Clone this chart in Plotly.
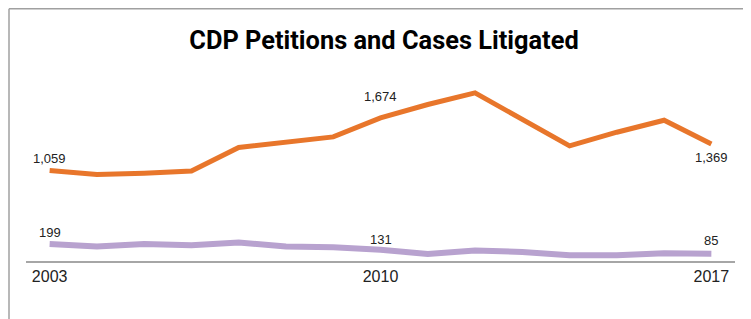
import plotly.graph_objects as go

years = list(range(2003, 2018))
petitions = [1059, 1012, 1027, 1054, 1328, 1393, 1452, 1674, 1831, 1967, 1659, 1347, 1507, 1647, 1369]
litigated = [199, 169, 200, 185, 216, 169, 161, 131, 83, 123, 106, 68, 68, 91, 85]
tick_years = [2003, 2010, 2017]
label_years = [2003, 2010, 2017]

lab_font = dict(size=13, color="#222222", family="Liberation Sans, Arial, sans-serif")

W, H = 743, 311
L, R, T, B = 18, 16, 62, 58
pw, ph = W - L - R, H - T - B

fig = go.Figure()
fig.add_trace(go.Scatter(
    x=years, y=petitions, mode="lines",
    line=dict(color="#E8762B", width=5), hoverinfo="skip",
))
fig.add_trace(go.Scatter(
    x=years, y=litigated, mode="lines",
    line=dict(color="#B8A2CF", width=6), hoverinfo="skip",
))

# data labels: offsets from the line in pixels
pet_shift = {2003: 12, 2010: 21, 2017: -13}
lit_shift = {2003: 11, 2010: 10, 2017: 13}
annotations = []
for y, v in zip(years, petitions):
    if y in label_years:
        annotations.append(dict(x=y, y=v, text=f"{v:,}", showarrow=False, yshift=pet_shift[y],
                                xanchor="center", yanchor="middle", font=lab_font))
for y, v in zip(years, litigated):
    if y in label_years:
        annotations.append(dict(x=y, y=v, text=f"{v:,}", showarrow=False, yshift=lit_shift[y],
                                xanchor="center", yanchor="middle", font=lab_font))

fig.update_layout(
    width=W, height=H,
    margin=dict(l=L, r=R, t=T, b=B),
    paper_bgcolor="white", plot_bgcolor="white",
    showlegend=False,
    annotations=annotations,
    title=dict(text="<b>CDP Petitions and Cases Litigated</b>", x=376 / W, xanchor="center",
               y=1 - 32 / H, yanchor="middle",
               font=dict(size=25.4, color="#000000", family="Roboto, Liberation Sans, sans-serif")),
    xaxis=dict(range=[2002.5, 2017.5], tickmode="array", tickvals=tick_years, ticktext=[str(t) for t in tick_years],
               showgrid=False, zeroline=False, showline=True, linecolor="#A6A6A6", linewidth=1.5,
               ticks="", tickfont=dict(size=16, color="#222222", family="Liberation Sans, Arial, sans-serif")),
    yaxis=dict(range=[0, 2235], visible=False, showgrid=False, zeroline=False),
    shapes=[
        dict(type="line", xref="paper", yref="paper", x0=-(L - 1) / pw, x1=1 + R / pw + 0.05,
             y0=1 + (T - 0.8) / ph, y1=1 + (T - 0.8) / ph, line=dict(color="#A0A0A0", width=1.5)),
        dict(type="line", xref="paper", yref="paper", x0=-(L - 1) / pw, x1=-(L - 1) / pw,
             y0=1 + (T - 0.8) / ph, y1=-B / ph - 0.1, line=dict(color="#A0A0A0", width=1.5)),
    ],
)
fig.write_html("out.html")
